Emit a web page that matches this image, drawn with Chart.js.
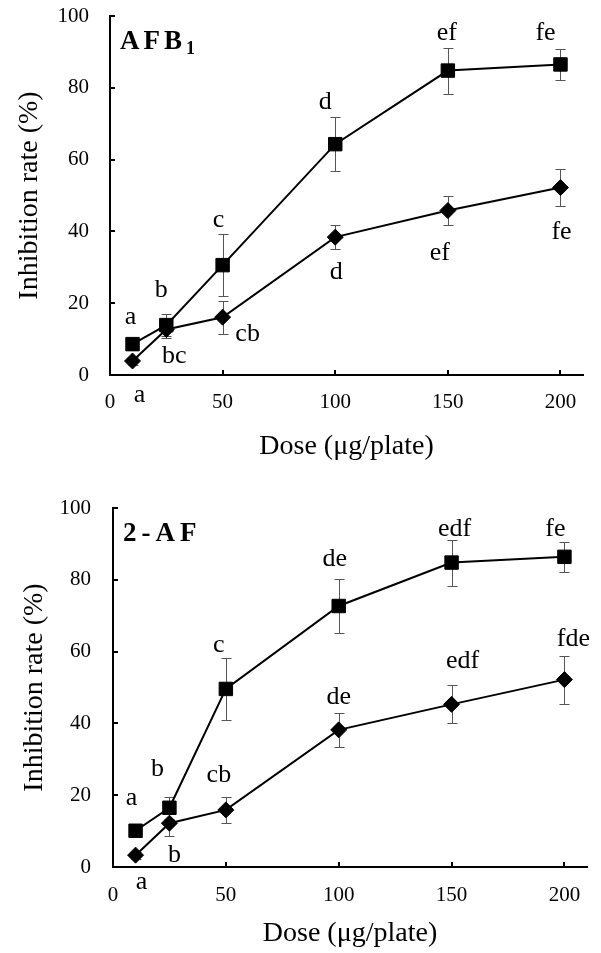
<!DOCTYPE html>
<html>
<head>
<meta charset="utf-8">
<script src="https://cdn.jsdelivr.net/npm/chart.js@4.4.0/dist/chart.umd.min.js"></script>
<style>
    html, body { margin: 0; padding: 0; background: #fff; }
    .panel { position: relative; width: 601px; }
    #top { height: 476px; }
    #bottom { height: 477px; }
</style>
</head>
<body>
<div class="panel" id="top"><canvas id="afbChart"></canvas></div>
<div class="panel" id="bottom"><canvas id="afChart"></canvas></div>
<script>
// doses (ug/plate)
const doses = [10, 25, 50, 100, 150, 200];

// AFB1 panel
const afbSquare = [8.6, 13.9, 30.6, 64.3, 84.8, 86.5];
const afbSquareErr = [1.5, 3, 8.6, 7.5, 6.4, 4.3];
const afbSquareLetters = ['a', 'b', 'c', 'd', 'ef', 'fe'];
const afbDiamond = [3.9, 12.7, 16.1, 38.4, 45.8, 52.2];
const afbDiamondErr = [1, 2.5, 4.6, 3.4, 4, 5.1];
const afbDiamondLetters = ['a', 'bc', 'cb', 'd', 'ef', 'fe'];

// 2-AF panel
const afSquare = [10.1, 16.5, 49.6, 72.7, 84.8, 86.4];
const afSquareErr = [1.5, 3, 8.6, 7.5, 6.4, 4.2];
const afSquareLetters = ['a', 'b', 'c', 'de', 'edf', 'fe'];
const afDiamond = [3.3, 12.2, 15.9, 38.2, 45.3, 52.2];
const afDiamondErr = [1, 3.7, 3.7, 4.8, 5.3, 6.7];
const afDiamondLetters = ['a', 'b', 'cb', 'de', 'edf', 'fde'];

// where the letters sit next to their marker (px)
const afbSquareLetterPos = [[-2, -27], [-5, -35], [-4, -45], [-10, -42], [-1, -37], [-15, -31]];
const afbDiamondLetterPos = [[7, 34], [8, 27], [25, 17], [1, 35], [-8, 43], [1, 45]];
const afSquareLetterPos = [[-4, -33], [-12, -39], [-7, -44], [-4, -47], [3, -33], [-9, -28]];
const afDiamondLetterPos = [[6, 27], [5, 32], [-7, -35], [0, -33], [11, -43], [9, -40]];

const serif = '"Liberation Serif", "Times New Roman", serif';

// error bars drawn under the markers
const errorBars = {
    id: 'errorBars',
    beforeDatasetsDraw(chart) {
        const ctx = chart.ctx;
        const xs = chart.scales.x;
        const ys = chart.scales.y;
        ctx.save();
        ctx.strokeStyle = '#555';
        ctx.lineWidth = 1;
        chart.data.datasets.forEach((ds) => {
            ds.data.forEach((p, i) => {
                const e = ds.errors[i];
                const px = Math.round(xs.getPixelForValue(p.x)) + 0.5;
                const top = Math.round(ys.getPixelForValue(p.y + e)) + 0.5;
                const bot = Math.round(ys.getPixelForValue(p.y - e)) + 0.5;
                ctx.beginPath();
                ctx.moveTo(px, top);
                ctx.lineTo(px, bot);
                ctx.moveTo(px - 5, top);
                ctx.lineTo(px + 5, top);
                ctx.moveTo(px - 5, bot);
                ctx.lineTo(px + 5, bot);
                ctx.stroke();
            });
        });
        ctx.restore();
    },
};

// significance letters
const letterLabels = {
    id: 'letterLabels',
    afterDatasetsDraw(chart) {
        const ctx = chart.ctx;
        const xs = chart.scales.x;
        const ys = chart.scales.y;
        ctx.save();
        ctx.fillStyle = '#000';
        ctx.font = '26px ' + serif;
        ctx.textAlign = 'center';
        ctx.textBaseline = 'middle';
        chart.data.datasets.forEach((ds) => {
            ds.data.forEach((p, i) => {
                const off = ds.letterPos[i];
                ctx.fillText(ds.letters[i], xs.getPixelForValue(p.x) + off[0], ys.getPixelForValue(p.y) + off[1]);
            });
        });
        ctx.restore();
    },
};

// bold panel name in the upper left corner
const panelTitle = {
    id: 'panelTitle',
    afterDraw(chart, args, opts) {
        const ctx = chart.ctx;
        const area = chart.chartArea;
        ctx.save();
        ctx.fillStyle = '#000';
        ctx.font = 'bold 27px ' + serif;
        ctx.letterSpacing = opts.spacing + 'px';
        ctx.textAlign = 'left';
        ctx.textBaseline = 'alphabetic';
        const x = area.left + 10;
        const y = area.top + 33;
        ctx.fillText(opts.text, x, y);
        if (opts.sub) {
            const w = ctx.measureText(opts.text).width;
            ctx.font = 'bold 18px ' + serif;
            ctx.letterSpacing = '0px';
            ctx.fillText(opts.sub, x + w, y + 5);
        }
        ctx.restore();
    },
};

function series(values, errors, letters, letterPos, style, radius) {
    return {
        data: doses.map((d, i) => ({ x: d, y: values[i] })),
        errors: errors,
        letters: letters,
        letterPos: letterPos,
        borderColor: '#000',
        borderWidth: 2,
        backgroundColor: '#000',
        pointStyle: style,
        pointRadius: radius,
        pointBorderWidth: 1,
        pointBackgroundColor: '#000',
        pointBorderColor: '#000',
        tension: 0,
        fill: false,
        clip: false,
    };
}

function makeChart(canvasId, datasets, title, sub, spacing, pad, yWidth, xHeight, yPad, xPad) {
    return new Chart(document.getElementById(canvasId), {
        type: 'line',
        data: { datasets: datasets },
        options: {
            responsive: true,
            maintainAspectRatio: false,
            animation: false,
            layout: { padding: pad },
            plugins: {
                legend: { display: false },
                tooltip: { enabled: false },
                panelTitle: { text: title, sub: sub, spacing: spacing },
            },
            scales: {
                x: {
                    type: 'linear',
                    min: 0,
                    max: 210,
                    ticks: {
                        stepSize: 50,
                        includeBounds: false,
                        color: '#000',
                        padding: xPad,
                        font: { family: serif, size: 21 },
                        maxRotation: 0,
                    },
                    grid: { drawOnChartArea: false, tickLength: -5, color: '#000', lineWidth: 2 },
                    border: { display: true, color: '#000', width: 2 },
                    title: {
                        display: true,
                        text: 'Dose (μg/plate)',
                        color: '#000',
                        padding: 0,
                        font: { family: serif, size: 28 },
                    },
                    afterFit(s) {
                        s.height = xHeight;
                        s.paddingLeft = 0;
                        s.paddingRight = 0;
                    },
                },
                y: {
                    min: 0,
                    max: 100,
                    ticks: {
                        stepSize: 20,
                        color: '#000',
                        padding: yPad,
                        font: { family: serif, size: 21 },
                    },
                    grid: { drawOnChartArea: false, tickLength: -5, color: '#000', lineWidth: 2 },
                    border: { display: true, color: '#000', width: 2 },
                    title: {
                        display: true,
                        text: 'Inhibition rate (%)',
                        color: '#000',
                        padding: 0,
                        font: { family: serif, size: 28 },
                    },
                    afterFit(s) {
                        s.width = yWidth;
                        s.paddingTop = 0;
                        s.paddingBottom = 0;
                    },
                },
            },
        },
        plugins: [errorBars, letterLabels, panelTitle],
    });
}

makeChart('afbChart', [
    series(afbDiamond, afbDiamondErr, afbDiamondLetters, afbDiamondLetterPos, 'rectRot', 8),
    series(afbSquare, afbSquareErr, afbSquareLetters, afbSquareLetterPos, 'rect', 9.5),
], 'AFB', '1', 4, { top: 16, left: 13, right: 18, bottom: 12.5 }, 97, 88.5, 26, 20);

makeChart('afChart', [
    series(afDiamond, afDiamondErr, afDiamondLetters, afDiamondLetterPos, 'rectRot', 8),
    series(afSquare, afSquareErr, afSquareLetters, afSquareLetterPos, 'rect', 9.5),
], '2-AF', '', 5, { top: 32, left: 18, right: 14, bottom: 2.9 }, 95, 83.1, 27, 21);
</script>
</body>
</html>
